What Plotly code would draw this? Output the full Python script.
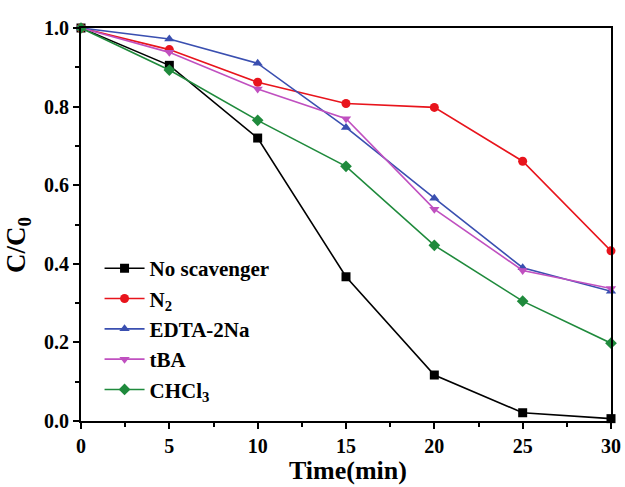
import plotly.graph_objects as go

time = [0, 5, 10, 15, 20, 25, 30]
no_scavenger = [1.0, 0.905, 0.72, 0.367, 0.117, 0.021, 0.006]
n2 = [1.0, 0.945, 0.862, 0.808, 0.798, 0.661, 0.433]
edta = [1.0, 0.972, 0.91, 0.747, 0.567, 0.39, 0.33]
tba = [1.0, 0.938, 0.845, 0.769, 0.539, 0.383, 0.337]
chcl3 = [1.0, 0.893, 0.765, 0.648, 0.447, 0.305, 0.198]

names = ["No scavenger", "N<sub>2</sub>", "EDTA-2Na", "tBA", "CHCl<sub>3</sub>"]
series = [no_scavenger, n2, edta, tba, chcl3]
colors = ["#000000", "#e8141c", "#3a4fb0", "#c050c0", "#1f8a3c"]
symbols = ["square", "circle", "triangle-up", "triangle-down", "diamond"]

fig = go.Figure()
for nm, ys, c, s in zip(names, series, colors, symbols):
    fig.add_trace(go.Scatter(
        x=time, y=ys, name=nm, mode="lines+markers",
        line=dict(color=c, width=1.6),
        marker=dict(symbol=s, size=9, color=c),
        cliponaxis=False,
    ))

font_family = "Liberation Serif"
axis_common = dict(
    showline=True, linecolor="black", linewidth=2, mirror=True,
    ticks="outside", ticklen=6, tickwidth=1.5, tickcolor="black",
    showgrid=False, zeroline=False, automargin=False,
    tickfont=dict(family=font_family, size=20, color="black", weight="bold"),
)

fig.update_layout(
    width=625, height=487,
    margin=dict(l=81, r=14, t=28, b=66),
    paper_bgcolor="white", plot_bgcolor="white",
    font=dict(family=font_family, color="black"),
    xaxis=dict(
        range=[0, 30], tickvals=[0, 5, 10, 15, 20, 25, 30],
        minor=dict(tickvals=[2.5, 7.5, 12.5, 17.5, 22.5, 27.5], ticks="outside", ticklen=4, tickcolor="black"),
        ticklabelstandoff=0,
        **axis_common,
    ),
    yaxis=dict(
        range=[0, 1.0], tickvals=[0, 0.2, 0.4, 0.6, 0.8, 1.0], tickformat=".1f",
        minor=dict(tickvals=[0.1, 0.3, 0.5, 0.7, 0.9], ticks="outside", ticklen=4, tickcolor="black"),
        **axis_common,
    ),
    legend=dict(
        x=0.035, y=0.44, xanchor="left", yanchor="top",
        bgcolor="rgba(0,0,0,0)",
        font=dict(family=font_family, size=21, color="black", weight="bold"),
        tracegroupgap=0, itemwidth=40,
    ),
    annotations=[
        dict(
            text="C/C<sub>0</sub>", xref="paper", yref="paper",
            x=(18 - 81) / 530, y=(421 - 245) / 393, xanchor="center", yanchor="middle",
            textangle=-90, showarrow=False,
            font=dict(family=font_family, size=27, color="black", weight="bold"),
        ),
        dict(
            text="Time(min)", xref="paper", yref="paper",
            x=(348 - 81) / 530, y=(421 - 471) / 393, xanchor="center", yanchor="middle",
            showarrow=False,
            font=dict(family=font_family, size=26, color="black", weight="bold"),
        ),
    ],
)

fig.write_html("out.html")
